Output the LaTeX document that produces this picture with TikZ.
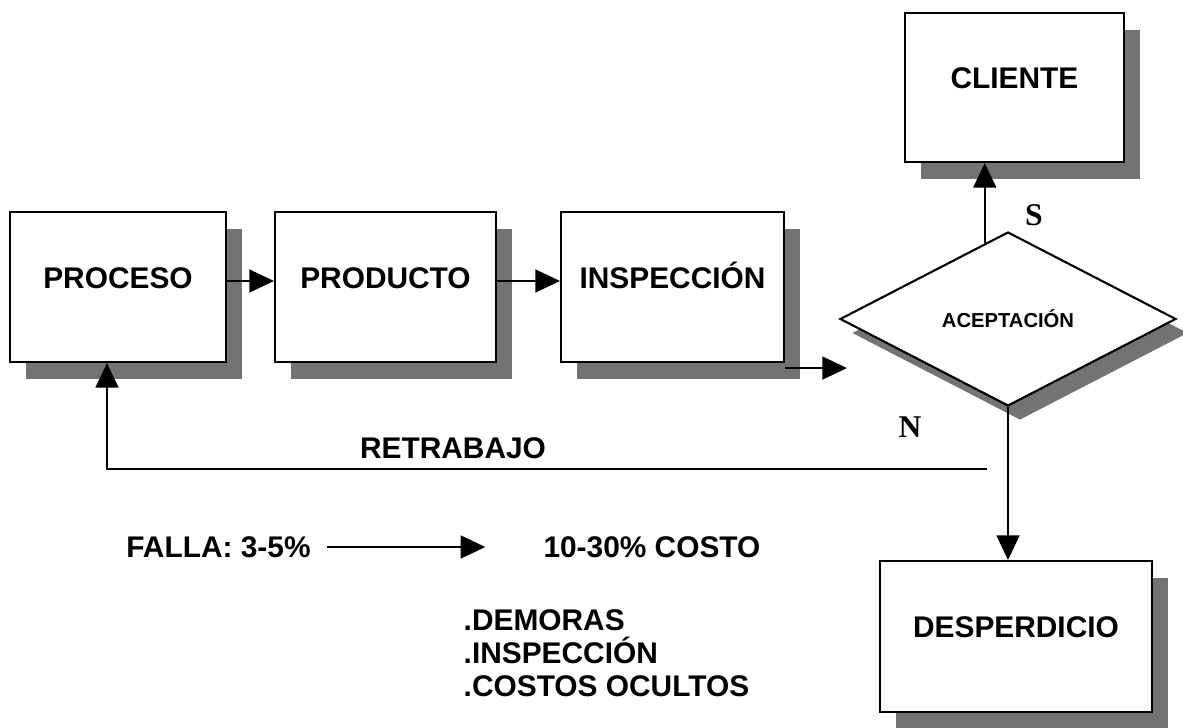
\documentclass[tikz,border=0pt]{standalone}
\usepackage{fontspec}
\setmainfont{Liberation Sans}
\newfontfamily\letraserif{Liberation Serif}
\usetikzlibrary{arrows.meta, positioning, shapes.geometric, shadows, calc}

\begin{document}
\begin{tikzpicture}[
    caja/.style={draw, line width=1.2pt, fill=white, minimum height=3cm, inner sep=0pt,
        text height=0.45cm, text depth=0.4cm, font=\fontsize{17}{20}\selectfont\bfseries,
        drop shadow={shadow xshift=0.32cm, shadow yshift=-0.34cm, fill=black!55, opacity=1}},
    rombo/.style={draw, diamond, line width=1.2pt, fill=white, minimum width=6.72cm,
        minimum height=3.48cm, inner sep=0pt, font=\fontsize{11.5}{14}\selectfont\bfseries,
        drop shadow={shadow xshift=0.24cm, shadow yshift=-0.28cm, fill=black!55, opacity=1}},
    flecha/.style={line width=1.2pt, -{Triangle[length=14pt,width=13pt]}},
    texto/.style={font=\fontsize{17}{20}\selectfont\bfseries},
    letra/.style={font=\fontsize{18}{20}\selectfont\letraserif\bfseries}
  ]
    \useasboundingbox (0,0) rectangle (23.66,14.54);

    % Linea de proceso
    \node[caja, minimum width=4.32cm] (proceso) at (2.36,8.8) {PROCESO};
    \node[caja, minimum width=4.42cm] (producto) at (7.71,8.8) {PRODUCTO};
    \node[caja, minimum width=4.46cm] (inspeccion) at (13.45,8.8) {INSPECCIÓN};

    % Decision y destinos
    \node[rombo] (aceptacion) at (20.16,8.16) {ACEPTACIÓN};
    \node[caja, minimum width=4.38cm, minimum height=2.98cm] (cliente) at (20.29,12.79) {CLIENTE};
    \node[caja, minimum width=5.44cm, minimum height=3.02cm] (desperdicio) at (20.32,1.81) {DESPERDICIO};

    % Flechas del flujo
    \draw[flecha] ([yshift=0.12cm]proceso.east) -- ([yshift=0.12cm]producto.west);
    \draw[flecha] ([yshift=0.12cm]producto.east) -- ([yshift=0.12cm]inspeccion.west);
    \draw[flecha] ([yshift=-0.1cm]inspeccion.south east) -- ($(inspeccion.south east -| aceptacion.west)+(0.16,-0.1)$);
    \draw[flecha] (aceptacion.107.5) -- (aceptacion.107.5 |- cliente.south);
    \draw[flecha] (aceptacion.south) -- (aceptacion.south |- desperdicio.north);
    \node[letra] (si) at (20.68,10.24) {S};
    \node[letra] (no) at (18.2,6.0) {N};

    % Retrabajo
    \coordinate (retorno) at ($(aceptacion.south)+(-0.42,-1.24)$);
    \draw[flecha] (retorno) -| ([xshift=-0.22cm]proceso.south);
    \node[texto] (retrabajo) at (9.06,5.58) {RETRABAJO};

    % Costos de la falla
    \node[texto] (falla) at (4.37,3.6) {FALLA: 3-5\%};
    \node[texto] (costo) at (13.04,3.6) {10-30\% COSTO};
    \draw[flecha, shorten <=0.2cm, shorten >=1.04cm] (falla.east) -- (costo.west);
    \node[texto, align=left, anchor=west, font=\fontsize{17}{18.7}\selectfont\bfseries] (costos) at (9.15,1.48)
        {.DEMORAS\\.INSPECCIÓN\\.COSTOS OCULTOS};
\end{tikzpicture}
\end{document}
